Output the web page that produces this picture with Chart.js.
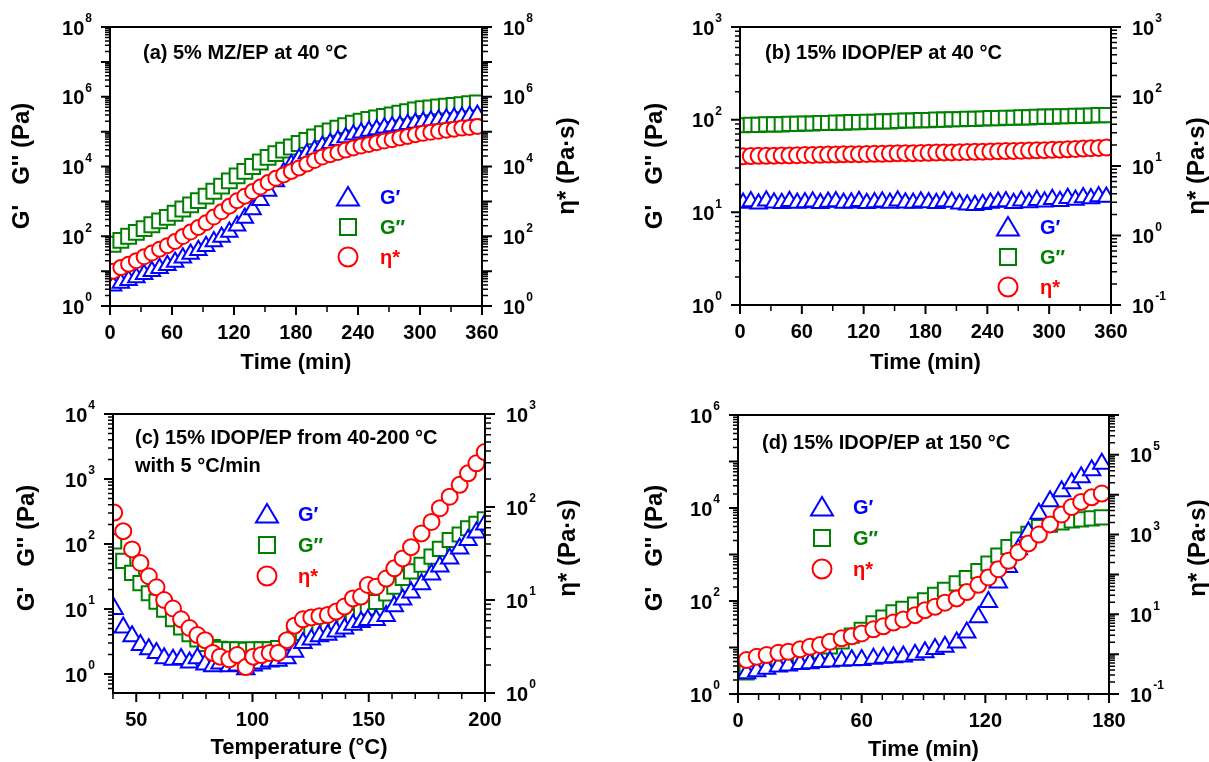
<!DOCTYPE html>
<html>
<head>
<meta charset="utf-8">
<script src="https://cdn.jsdelivr.net/npm/chart.js@4.4.0/dist/chart.umd.min.js"></script>
<style>
html, body { margin: 0; padding: 0; background: #fff; }
#wrap { position: relative; width: 1209px; height: 762px; overflow: hidden; background: #fff; }
#wrap canvas { position: absolute; left: 0; top: 0; }
</style>
</head>
<body>
<div id="wrap">
  <canvas id="pa" width="1209" height="762"></canvas>
  <canvas id="pb" width="1209" height="762"></canvas>
  <canvas id="pc" width="1209" height="762"></canvas>
  <canvas id="pd" width="1209" height="762"></canvas>
</div>
<script>
// ---- data ----

// (a) and (b) are sampled at the same times (min)
const timeAB = [3, 10.5, 18, 25.5, 33, 40.5, 48, 55.5, 63, 70.5, 78, 85.5, 93, 100.5, 108, 115.5,
  123, 130.5, 138, 145.5, 153, 160.5, 168, 175.5, 183, 190.5, 198, 205.5, 213, 220.5, 228, 235.5,
  243, 250.5, 258, 265.5, 273, 280.5, 288, 295.5, 303, 310.5, 318, 325.5, 333, 340.5, 348, 355.5];

// (a) 5% MZ/EP at 40 C
const gpA = [3.8, 4.6, 5.5, 6.6, 8.1, 9.9, 12, 14.8, 18.4, 24, 31, 40, 52, 71, 95, 132,
  200, 335, 589, 1070, 2000, 3720, 6760, 11500, 17000, 23400, 30200, 38900, 46800, 56200, 67600, 81300,
  93300, 105000, 115000, 129000, 141000, 151000, 162000, 178000, 191000, 204000, 219000, 234000, 251000, 263000, 282000, 302000];
const gppA = [59, 76, 100, 129, 166, 214, 275, 347, 457, 603, 794, 1050, 1410, 1950, 2750, 3890,
  5370, 7240, 10000, 13500, 18200, 23400, 29500, 36300, 45700, 56200, 70800, 87100, 105000, 125000, 148000, 176000,
  200000, 224000, 246000, 275000, 302000, 339000, 372000, 417000, 457000, 479000, 513000, 537000, 562000, 589000, 631000, 661000];
const etaA = [10, 12.6, 15.8, 20, 25.7, 33, 42.7, 53.7, 70.8, 97.7, 132, 178, 245, 355, 501, 724,
  1050, 1410, 1910, 2570, 3470, 4570, 5750, 7240, 9120, 11700, 14800, 18600, 21900, 25100, 29500, 33900,
  38500, 42700, 47900, 53700, 58900, 66100, 72400, 81300, 89100, 95500, 102000, 110000, 117000, 126000, 132000, 141000];

// (b) 15% IDOP/EP at 40 C
const gpB = [12.6, 13.1, 12.4, 13.3, 12.7, 12.5, 13.2, 12.6, 12.8, 13.0, 12.5, 12.9, 13.1, 12.6, 12.7, 13.2,
  12.5, 12.8, 13.0, 12.6, 13.3, 12.7, 12.6, 13.0, 12.8, 12.5, 13.1, 12.9, 12.4, 12.1, 11.9, 12.2,
  12.6, 12.9, 13.1, 12.5, 13.3, 12.8, 13.5, 13.0, 13.8, 13.2, 14.2, 13.6, 14.5, 14.1, 14.8, 14.6];
const gppB = [87, 88, 88, 89, 89, 89, 90, 90, 91, 91, 92, 92, 93, 93, 94, 94,
  95, 95, 96, 96, 97, 98, 98, 99, 99, 100, 100, 101, 101, 102, 102, 103,
  104, 104, 105, 105, 106, 106, 107, 108, 108, 109, 109, 110, 110, 111, 112, 112];
const etaB = [13.8, 13.9, 14.0, 14.0, 14.1, 14.2, 14.2, 14.3, 14.4, 14.4, 14.5, 14.6, 14.6, 14.7, 14.8, 14.8,
  14.9, 15.0, 15.0, 15.1, 15.2, 15.3, 15.3, 15.4, 15.5, 15.6, 15.7, 15.7, 15.8, 15.9, 16.0, 16.1,
  16.2, 16.3, 16.4, 16.5, 16.6, 16.7, 16.8, 16.9, 17.1, 17.2, 17.4, 17.6, 17.8, 18.0, 18.2, 18.5];

// (c) 15% IDOP/EP from 40-200 C, 5 C/min
const tempC = [40.5, 44.4, 48.2, 51.8, 55.4, 58.7, 62, 65.8, 69.3, 72.9, 76.3, 79.6, 82.9, 86, 90,
  93.4, 97.1, 100.3, 103.8, 107.4, 111, 114.8, 118.1, 121.7, 125.3, 128.8, 132.4, 136, 139.6, 143.2,
  146.7, 149.6, 153.2, 157.5, 161, 164.6, 168.2, 172.7, 177, 180.6, 184.8, 189.1, 192.7, 196.3, 199.9];
const gpC = [10, 5.2, 3.8, 2.8, 2.4, 2.1, 1.75, 1.65, 1.7, 1.5, 1.75, 1.4, 1.32, 1.45, 1.32,
  1.35, 1.18, 1.35, 1.45, 1.55, 1.6, 1.75, 2.2, 3.0, 3.4, 3.8, 4.0, 4.5, 5.0, 5.7,
  6.3, 6.8, 6.8, 7.8, 11, 14, 18, 24, 34, 45, 60, 85, 115, 150, 200];
const gppC = [110, 55, 36, 25, 17.5, 13, 9.8, 7, 5.2, 4.1, 3.4, 2.9, 2.6, 2.45, 2.4,
  2.4, 2.35, 2.4, 2.4, 2.4, 2.5, 3.0, 3.9, 4.3, 4.5, 4.6, 4.8, 5.3, 6.0, 7.5,
  9.2, 10.6, 12.8, 17.4, 22, 30, 38, 48, 64, 84, 115, 140, 175, 205, 240];
const etaC = [87, 55, 35, 25, 18, 13.7, 10, 8.1, 6.2, 5.0, 4.2, 3.7, 2.7, 2.46, 2.3,
  2.56, 1.9, 2.46, 2.56, 2.7, 2.7, 3.7, 5.3, 6.2, 6.5, 6.7, 6.9, 7.5, 8.5, 10.4,
  10.9, 14.5, 13.9, 17, 21.9, 28, 37, 52, 69, 97, 129, 173, 230, 295, 390];

// (d) 15% IDOP/EP at 150 C
const timeD = [4.2, 9.1, 13.9, 19.6, 24.4, 30.1, 34.9, 39.8, 44.6, 50.3, 55.2, 60, 65.7, 70.5, 75.4, 80.2, 85.9, 90.7,
  95.6, 100.4, 106.1, 111, 116.6, 121.5, 126.3, 131.2, 136, 140.9, 146, 151.4, 157, 161.9, 166.5, 171.6, 176.5];
const gpD = [2.8, 3.1, 3.5, 3.9, 4.1, 4.4, 4.6, 4.9, 5.0, 5.2, 5.3, 5.4, 5.7, 6.0, 6.2, 6.4, 7.0, 7.9,
  9.3, 10.4, 12.8, 21, 45, 95, 250, 540, 1300, 3000, 7500, 14000, 23000, 34000, 46000, 65000, 90000];
const gppD = [2.9, 3.6, 4.1, 4.8, 5.5, 6.3, 7.1, 8.3, 10.5, 13.5, 18, 24, 33, 44, 57, 68, 84, 104,
  135, 175, 240, 310, 440, 640, 950, 1450, 2100, 2800, 3900, 4400, 4900, 5400, 5700, 6000, 6300];
const etaD = [0.71, 0.86, 0.95, 1.08, 1.15, 1.32, 1.53, 1.7, 2.05, 2.5, 2.8, 3.3, 4.2, 5.0, 6.2, 7.4, 9.5, 12.7,
  15.4, 19.5, 25, 36, 55, 84, 135, 220, 360, 600, 1000, 1800, 3200, 4900, 6600, 8600, 10700];

// tick values
const timeMajorAB = [0, 60, 120, 180, 240, 300, 360];
const timeMinorAB = [30, 90, 150, 210, 270, 330];
const tempMajorC = [50, 100, 150, 200];
const tempMinorC = [40, 60, 70, 80, 90, 110, 120, 130, 140, 160, 170, 180, 190];
const timeMajorD = [0, 60, 120, 180];
const timeMinorD = [10, 20, 30, 40, 50, 70, 80, 90, 100, 110, 130, 140, 150, 160, 170];
// exponents of the labelled decades
const expLeftA = [0, 2, 4, 6, 8], expRightA = [0, 2, 4, 6, 8];
const expLeftB = [0, 1, 2, 3], expRightB = [-1, 0, 1, 2, 3];
const expLeftC = [0, 1, 2, 3, 4], expRightC = [0, 1, 2, 3];
const expLeftD = [0, 2, 4, 6], expRightD = [-1, 1, 3, 5];

const seriesNames = ['G\u2032', 'G\u2033', '\u03b7*'];

// ---- drawing ----
const W = 1209, H = 762;
const FONT = '"Liberation Sans", Arial, Helvetica, sans-serif';
const BLUE = '#0000ff', GREEN = '#008000', RED = '#ff0000';

function logTicks(min, max) {
  const out = [];
  const e0 = Math.floor(Math.log10(min)), e1 = Math.ceil(Math.log10(max));
  for (let e = e0; e <= e1; e++) {
    for (let m = 1; m <= 9; m++) {
      const v = m * Math.pow(10, e);
      if (v >= min * 0.9999 && v <= max * 1.0001) out.push({ v: v, major: m === 1 });
    }
  }
  return out;
}

function drawPow(ctx, exp, x, y, side) {
  const sup = String(exp);
  ctx.font = 'bold 20px ' + FONT;
  const bw = ctx.measureText('10').width;
  ctx.font = 'bold 12px ' + FONT;
  const sw = ctx.measureText(sup).width;
  const x0 = side === 'left' ? x - bw - sw - 1 : x;
  ctx.textAlign = 'left';
  ctx.textBaseline = 'middle';
  ctx.font = 'bold 20px ' + FONT;
  ctx.fillText('10', x0, y + 2);
  ctx.font = 'bold 12px ' + FONT;
  ctx.fillText(sup, x0 + bw + 1, y - 8);
}

function vText(ctx, text, x, y) {
  ctx.save();
  ctx.translate(x, y);
  ctx.rotate(-Math.PI / 2);
  ctx.textAlign = 'center';
  ctx.textBaseline = 'middle';
  ctx.fillText(text, 0, 0);
  ctx.restore();
}

function symbol(ctx, style, x, y, color) {
  ctx.beginPath();
  if (style === 'circle') {
    ctx.arc(x, y, 9.5, 0, Math.PI * 2);
  } else if (style === 'rect') {
    ctx.rect(x - 8, y - 8, 16, 16);
  } else {
    ctx.moveTo(x, y - 10);
    ctx.lineTo(x + 11, y + 8.5);
    ctx.lineTo(x - 11, y + 8.5);
    ctx.closePath();
  }
  ctx.fillStyle = '#fff';
  ctx.fill();
  ctx.strokeStyle = color;
  ctx.lineWidth = 2;
  ctx.stroke();
}

function framePlugin(p) {
  return {
    id: 'frame',
    afterDatasetsDraw(chart) {
      const ctx = chart.ctx, a = chart.chartArea;
      const sx = chart.scales.x, sy = chart.scales.y, sy2 = chart.scales.y2;
      ctx.save();
      ctx.strokeStyle = '#000';
      ctx.fillStyle = '#000';

      // tick marks, pointing outwards
      [true, false].forEach(function (major) {
        ctx.lineWidth = major ? 2 : 1.5;
        ctx.beginPath();
        logTicks(sy.min, sy.max).forEach(function (t) {
          if (t.major !== major) return;
          const y = sy.getPixelForValue(t.v);
          ctx.moveTo(a.left, y);
          ctx.lineTo(a.left - (major ? 9 : 5), y);
        });
        logTicks(sy2.min, sy2.max).forEach(function (t) {
          if (t.major !== major) return;
          const y = sy2.getPixelForValue(t.v);
          ctx.moveTo(a.right, y);
          ctx.lineTo(a.right + (major ? 10 : 6), y);
        });
        (major ? p.xMajor : p.xMinor).forEach(function (v) {
          const x = sx.getPixelForValue(v);
          ctx.moveTo(x, a.bottom);
          ctx.lineTo(x, a.bottom + (major ? 9 : 6));
        });
        ctx.stroke();
      });

      ctx.lineWidth = 2;
      ctx.strokeRect(a.left, a.top, a.right - a.left, a.bottom - a.top);

      // tick labels
      ctx.font = 'bold 20px ' + FONT;
      ctx.textAlign = 'center';
      ctx.textBaseline = 'middle';
      p.xMajor.forEach(function (v) {
        ctx.fillText(String(v), sx.getPixelForValue(v), a.bottom + 27);
      });
      p.expLeft.forEach(function (e) {
        drawPow(ctx, e, a.left - 18, sy.getPixelForValue(Math.pow(10, e)), 'left');
      });
      p.expRight.forEach(function (e) {
        drawPow(ctx, e, a.right + 21, sy2.getPixelForValue(Math.pow(10, e)), 'right');
      });

      // axis titles
      ctx.font = 'bold 22px ' + FONT;
      ctx.textAlign = 'center';
      ctx.textBaseline = 'middle';
      ctx.fillText(p.xTitle, (a.left + a.right) / 2, p.xTitleY);
      ctx.font = 'bold 24px ' + FONT;
      vText(ctx, "G'   G'' (Pa)", p.yTitleX[0], p.yTitleY);
      vText(ctx, '\u03b7* (Pa\u00b7s)', p.yTitleX[1], p.yTitleY);

      // panel notes
      ctx.font = 'bold 20px ' + FONT;
      ctx.textAlign = 'left';
      ctx.textBaseline = 'middle';
      p.notes.forEach(function (n) { ctx.fillText(n[0], n[1], n[2]); });

      // legend
      chart.data.datasets.forEach(function (ds, i) {
        const y = p.legY[i];
        symbol(ctx, ds.pointStyle, p.legX, y, ds.pointBorderColor);
        ctx.fillStyle = ds.pointBorderColor;
        ctx.font = 'bold 20px ' + FONT;
        ctx.textAlign = 'left';
        ctx.textBaseline = 'middle';
        ctx.fillText(ds.label, p.legTX, y + 1);
      });
      ctx.restore();
    }
  };
}

function series(xs, ys, label, axis, color, style, r, order) {
  return {
    label: label,
    data: xs.map(function (x, i) { return { x: x, y: ys[i] }; }),
    yAxisID: axis,
    pointStyle: style,
    pointRadius: r,
    pointBorderWidth: 2,
    pointBorderColor: color,
    pointBackgroundColor: '#ffffff',
    showLine: false,
    order: order
  };
}

function makePanel(id, p) {
  return new Chart(document.getElementById(id), {
    type: 'scatter',
    data: {
      datasets: [
        series(p.x, p.gp, seriesNames[0], 'y', BLUE, 'triangle', p.r[0], 1),
        series(p.x, p.gpp, seriesNames[1], 'y', GREEN, 'rect', p.r[1], 2),
        series(p.x, p.eta, seriesNames[2], 'y2', RED, 'circle', p.r[2], 0)
      ]
    },
    options: {
      responsive: false,
      animation: false,
      events: [],
      layout: { padding: { left: p.area[0], top: p.area[1], right: W - p.area[2], bottom: H - p.area[3] } },
      plugins: { legend: { display: false }, tooltip: { enabled: false } },
      scales: {
        x: { type: 'linear', min: p.xRange[0], max: p.xRange[1], display: false },
        y: { type: 'logarithmic', min: p.yRange[0], max: p.yRange[1], display: false },
        y2: { type: 'logarithmic', position: 'right', min: p.y2Range[0], max: p.y2Range[1], display: false }
      }
    },
    plugins: [framePlugin(p)]
  });
}

makePanel('pa', {
  x: timeAB, gp: gpA, gpp: gppA, eta: etaA, r: [9.5, 10.5, 7.5],
  area: [110, 27, 482, 306], xRange: [0, 360], yRange: [1, 1e8], y2Range: [1, 1e8],
  xMajor: timeMajorAB, xMinor: timeMinorAB, expLeft: expLeftA, expRight: expRightA,
  xTitle: 'Time (min)', xTitleY: 363, yTitleX: [22, 567], yTitleY: 166,
  notes: [['(a) 5% MZ/EP at 40 \u00b0C', 143, 53]],
  legX: 348, legY: [197, 227, 257], legTX: 380
});

makePanel('pb', {
  x: timeAB, gp: gpB, gpp: gppB, eta: etaB, r: [9.5, 10, 8],
  area: [740, 27, 1111, 305], xRange: [0, 360], yRange: [1, 1000], y2Range: [0.1, 1000],
  xMajor: timeMajorAB, xMinor: timeMinorAB, expLeft: expLeftB, expRight: expRightB,
  xTitle: 'Time (min)', xTitleY: 363, yTitleX: [655, 1197], yTitleY: 166,
  notes: [['(b) 15% IDOP/EP at 40 \u00b0C', 765, 53]],
  legX: 1008, legY: [227, 257, 287], legTX: 1040
});

makePanel('pc', {
  x: tempC, gp: gpC, gpp: gppC, eta: etaC, r: [10, 10, 8],
  area: [113, 414, 485, 693], xRange: [40, 200], yRange: [0.51, 1e4], y2Range: [1, 1000],
  xMajor: tempMajorC, xMinor: tempMinorC, expLeft: expLeftC, expRight: expRightC,
  xTitle: 'Temperature (\u00b0C)', xTitleY: 748, yTitleX: [27, 568], yTitleY: 548,
  notes: [['(c) 15% IDOP/EP from 40-200 \u00b0C', 135, 438], ['with 5 \u00b0C/min', 135, 466]],
  legX: 267, legY: [514, 545, 576], legTX: 298
});

makePanel('pd', {
  x: timeD, gp: gpD, gpp: gppD, eta: etaD, r: [10, 10, 8],
  area: [738, 415, 1109, 694], xRange: [0, 180], yRange: [1, 1e6], y2Range: [0.1, 1e6],
  xMajor: timeMajorD, xMinor: timeMinorD, expLeft: expLeftD, expRight: expRightD,
  xTitle: 'Time (min)', xTitleY: 750, yTitleX: [655, 1198], yTitleY: 548,
  notes: [['(d) 15% IDOP/EP at 150 \u00b0C', 762, 443]],
  legX: 822, legY: [507, 538, 569], legTX: 853
});
</script>
</body>
</html>
